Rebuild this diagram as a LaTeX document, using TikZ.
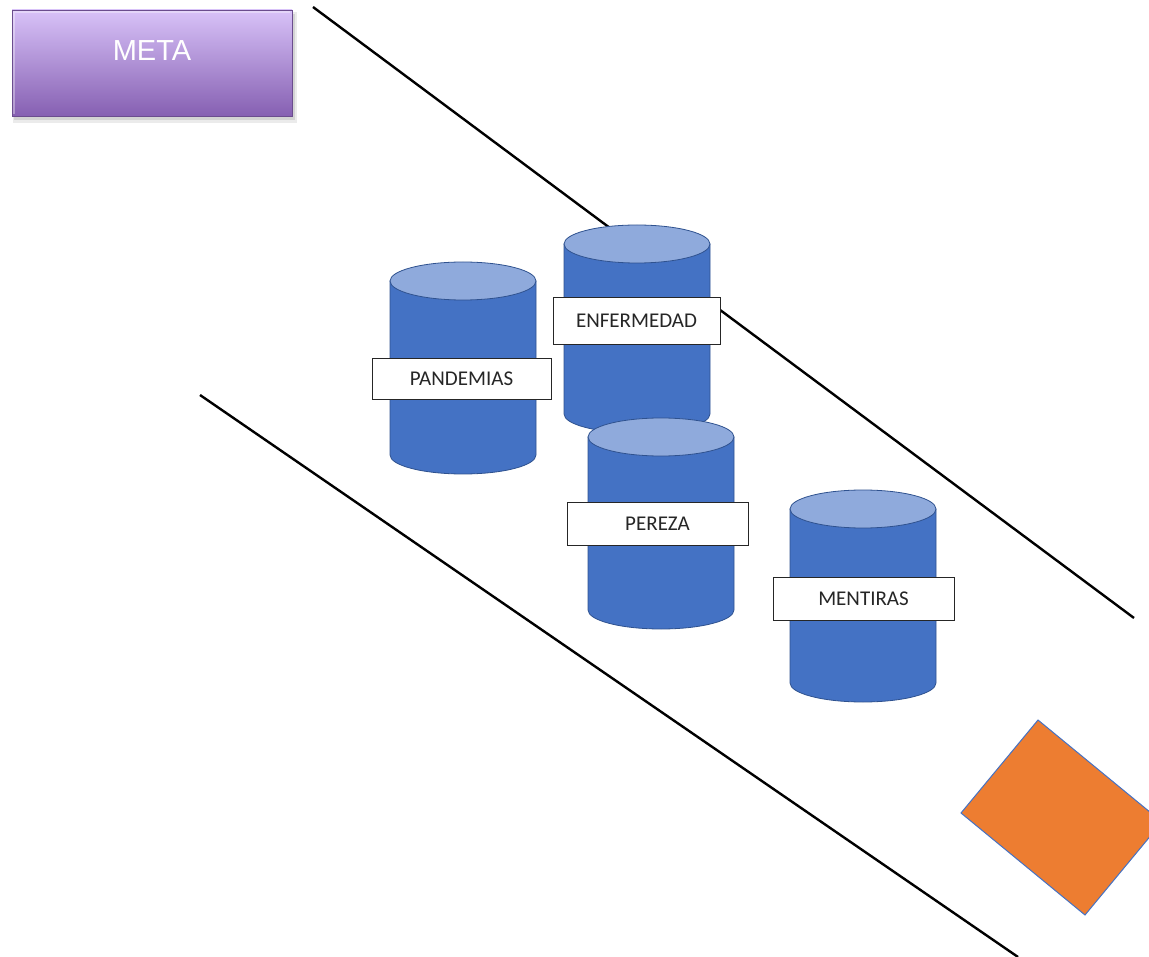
\documentclass[tikz,border=0pt]{standalone}
\usepackage{fontspec}
\setmainfont{Carlito}
\newfontfamily\arialf{Liberation Sans}
\definecolor{cylbody}{HTML}{4472C4}
\definecolor{cyltop}{HTML}{8FAADC}
\definecolor{cyledge}{HTML}{2F528F}
\definecolor{orangef}{HTML}{ED7D31}
\definecolor{metatop}{HTML}{D8C2F8}
\definecolor{metabot}{HTML}{8660B2}
\tikzset{
  road/.style={line width=2.4pt, black},
  lbl/.style={draw=black!85, fill=white, line width=0.9pt, inner sep=0pt, font=\fontsize{21}{23}\selectfont, text=black!85},
  cylb/.style={fill=cylbody, draw=cyledge, line width=0.8pt},
  cylt/.style={fill=cyltop, draw=cyledge, line width=0.8pt},
}
\newcommand\mycyl[3]{%
  \filldraw[cylb] (#1-73,#2) -- (#1-73,#3) arc[start angle=180,end angle=360,x radius=73pt,y radius=19pt] -- (#1+73,#2) -- cycle;
  \filldraw[cylt] (#1,#2) ellipse[x radius=73pt,y radius=19pt];
}
\begin{document}
\begin{tikzpicture}[x=1pt,y=-1pt]
\useasboundingbox (0,0) rectangle (1149,957);
\clip (0,0) rectangle (1149,957);
% road lines
\coordinate (u1) at (313,7);
\coordinate (u2) at (1134,618);
\coordinate (l1) at (200,395);
\coordinate (l2) at (1018,957);
\draw[road] (u1) -- (u2);
\draw[road] (l1) -- (l2);
% META box
\fill[black!30, opacity=0.5] (14,14) rectangle (295,120);
\fill[black!20, opacity=0.4] (13,12) rectangle (297,123);
\shade[top color=metatop, bottom color=metabot, draw=metabot!80!black, line width=0.8pt] (12,10) rectangle (292,116);
\draw[white, opacity=0.35, line width=1.5pt] (14,114) -- (14,12) -- (290,12);
\node[font=\arialf\fontsize{29}{31}\selectfont, text=white, inner sep=0pt] (meta) at (152,51) {META};
% cylinders
\mycyl{463}{281}{455}
\mycyl{637}{244}{414}
\mycyl{661}{437}{610}
\mycyl{863}{509}{683}
% labels
\node[lbl, minimum width=179pt, minimum height=41pt] (pand) at (461.5,378.5) {PANDEMIAS};
\node[lbl, minimum width=167pt, minimum height=47pt] (enf) at (636.5,320.5) {ENFERMEDAD};
\node[lbl, minimum width=181pt, minimum height=43pt] (per) at (657.5,523.5) {PEREZA};
\node[lbl, minimum width=181pt, minimum height=43pt] (ment) at (863.5,598.5) {MENTIRAS};
% orange block
\filldraw[fill=orangef, draw=cylbody, line width=1pt] (1038,720) -- (1162,822) -- (1085,915) -- (961,813) -- cycle;
\end{tikzpicture}
\end{document}
